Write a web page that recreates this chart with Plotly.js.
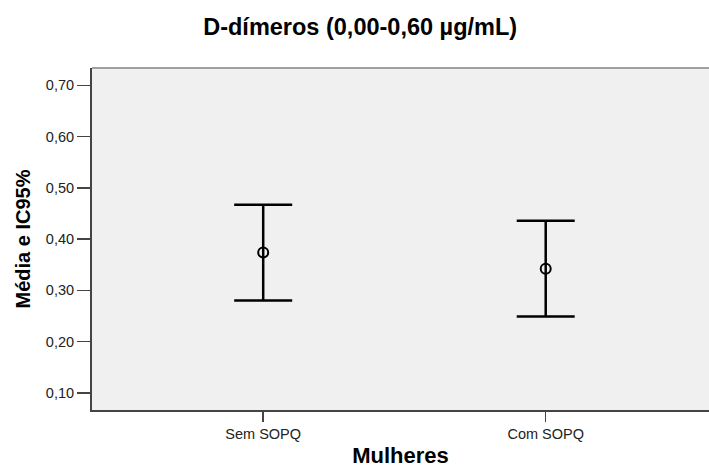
<!DOCTYPE html>
<html>
<head>
<meta charset="utf-8">
<script src="https://cdn.plot.ly/plotly-3.0.1.min.js"></script>
<style>html,body{margin:0;padding:0;background:#fff;overflow:hidden;}#chart{width:709px;height:468px;}</style>
</head>
<body>
<div id="chart"></div>
<script>
const categories = ["Sem SOPQ", "Com SOPQ"];
const means = [0.374, 0.342];
const lower = [0.280, 0.249];
const upper = [0.467, 0.436];
const yTicks = [0.10, 0.20, 0.30, 0.40, 0.50, 0.60, 0.70];

const trace = {
  type: "scatter",
  mode: "markers",
  x: categories,
  y: means,
  marker: {symbol: "circle-open", size: 10, color: "#000", line: {width: 2, color: "#000"}},
  error_y: {
    type: "data",
    symmetric: false,
    array: upper.map((u, i) => u - means[i]),
    arrayminus: means.map((m, i) => m - lower[i]),
    color: "#000",
    thickness: 2.5,
    width: 29
  },
  hoverinfo: "skip",
  showlegend: false
};

const font = "Liberation Sans, Arial, sans-serif";
const layout = {
  width: 709, height: 468,
  margin: {l: 92, r: 0, t: 67.5, b: 58},
  paper_bgcolor: "#ffffff",
  plot_bgcolor: "#f0f0f0",
  separators: ",.",
  font: {family: font, color: "#000"},
  title: {
    text: "<b>D-dímeros (0,00-0,60 µg/mL)</b>",
    font: {size: 23.5, family: font, color: "#000"},
    x: 0.508, xref: "container", xanchor: "center",
    y: 1 - 27/468, yref: "container", yanchor: "middle"
  },
  xaxis: {
    type: "category",
    range: [-0.606, 1.578],
    showgrid: false, zeroline: false,
    showline: true, linecolor: "#444", linewidth: 2,
    ticks: "outside", ticklen: 10, tickwidth: 1.5, tickcolor: "#444",
    tickfont: {size: 14.5, family: font, color: "#222"},
    title: {text: "<b>Mulheres</b>", font: {size: 22, family: font, color: "#000"}, standoff: 7},
    fixedrange: true
  },
  yaxis: {
    range: [0.0665, 0.734],
    tickvals: yTicks,
    tickformat: ".2f",
    showgrid: false, zeroline: false,
    showline: true, linecolor: "#444", linewidth: 2,
    ticks: "outside", ticklen: 13, tickwidth: 1.5, tickcolor: "#444",
    tickfont: {size: 14.5, family: font, color: "#222"},
    title: {text: "<b>Média e IC95%</b>", font: {size: 20, family: font, color: "#000"}, standoff: 10},
    fixedrange: true
  },
  shapes: [
    {type: "line", xref: "paper", yref: "paper", x0: 0, x1: 1, y0: 1, y1: 1, line: {color: "#a0a0a0", width: 2}}
  ]
};

Plotly.newPlot("chart", [trace], layout, {displayModeBar: false, staticPlot: true});
</script>
</body>
</html>
